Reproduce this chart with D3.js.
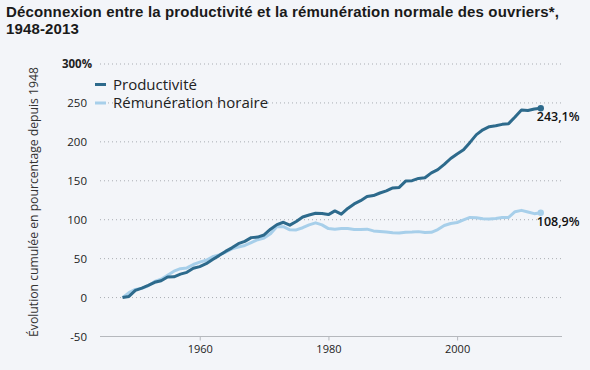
<!DOCTYPE html>
<html>
<head>
<meta charset="utf-8">
<script src="https://cdn.jsdelivr.net/npm/d3@7"></script>
<style>
  html, body { margin: 0; padding: 0; background: #f3f5f9; }
  svg { display: block; font-family: "Open Sans", "Noto Sans", sans-serif; }
</style>
</head>
<body>
<div id="chart"></div>
<script>
const years = d3.range(1948, 2014);

const productivite = [
    0, 1.5, 9.3, 12.2, 15.6, 19.6, 21.6, 26.5, 26.7, 30.1,
    32.4, 37.6, 39.8, 43.5, 49.0, 53.9, 59.3, 63.9, 69.2, 72.2,
    77.0, 77.7, 80.4, 87.8, 93.7, 96.7, 93.0, 97.7, 103.5, 106.0,
    108.3, 108.1, 106.6, 111.3, 107.2, 114.5, 120.3, 124.4, 129.7, 131.0,
    134.3, 137.0, 140.8, 141.5, 149.6, 150.2, 153.0, 153.9, 160.2, 164.4,
    171.0, 178.6, 184.5, 189.9, 199.3, 209.3, 215.5, 219.5, 220.6, 222.5,
    223.4, 232.0, 241.0, 240.2, 242.1, 243.1
];

const remuneration = [
    0, 6.3, 10.5, 11.8, 15.0, 20.8, 23.5, 28.7, 33.9, 37.1,
    38.1, 42.5, 45.5, 48.0, 52.5, 54.7, 58.2, 62.5, 64.9, 66.9,
    70.7, 74.3, 76.6, 82.0, 91.3, 91.0, 87.0, 86.9, 89.7, 93.4,
    96.0, 93.4, 88.6, 87.8, 88.6, 88.7, 87.5, 87.3, 87.9, 85.6,
    84.9, 84.3, 83.2, 82.8, 84.0, 84.2, 84.7, 83.6, 83.8, 87.3,
    92.6, 95.2, 96.4, 99.7, 102.9, 102.5, 101.3, 101.0, 101.5, 102.8,
    103.0, 110.3, 112.0, 109.9, 107.8, 108.9
];

const seriesNames = ["Productivité", "Rémunération horaire"];
const endLabels = ["243,1%", "108,9%"];
const yTicks = [-50, 0, 50, 100, 150, 200, 250, 300];
const xTicks = [1960, 1980, 2000];
const titleLines = [
    "Déconnexion entre la productivité et la rémunération normale des ouvriers*,",
    "1948-2013"
];

const colors = ["#2d6a8c", "#a7cfea"];

const W = 590, H = 370;
const svg = d3.select("#chart").append("svg")
    .attr("width", W)
    .attr("height", H);

svg.append("rect").attr("width", W).attr("height", H).attr("fill", "#f3f5f9");

// title, one text per line (tighter font so the lines don't collide)
svg.append("g")
    .selectAll("text")
    .data(titleLines)
    .enter().append("text")
    .attr("x", 6)
    .attr("y", (d, i) => 16.5 + i * 17)
    .attr("font-family", "'Liberation Sans', Arial, sans-serif")
    .attr("font-size", "15px")
    .attr("letter-spacing", "0.15px")
    .attr("font-weight", "bold")
    .attr("fill", "#1a1a1a")
    .text(d => d);

const x = d3.scaleLinear().domain([1944.5, 2016.3]).range([100, 562]);
const y = d3.scaleLinear().domain([-50, 300]).range([336.5, 64]);

// dotted grid
svg.append("g")
    .selectAll("line")
    .data(yTicks.filter(d => d > -50))
    .enter().append("line")
    .attr("x1", 100)
    .attr("x2", 562)
    .attr("y1", d => y(d))
    .attr("y2", d => y(d))
    .attr("stroke", "#a9adb3")
    .attr("stroke-width", 1)
    .attr("stroke-dasharray", "1,3");

// y labels
svg.append("g")
    .selectAll("text")
    .data(yTicks)
    .enter().append("text")
    .attr("x", d => d === 300 ? 92 : 87)
    .attr("y", d => y(d))
    .attr("dy", "0.35em")
    .attr("text-anchor", "end")
    .attr("font-size", "11.5px")
    .attr("font-weight", d => d === 300 ? "bold" : "normal")
    .attr("fill", "#222")
    .text(d => d === 300 ? d + "%" : d);

// x axis
const xAxis = svg.append("g")
    .attr("transform", `translate(0,${y(-50)})`)
    .call(d3.axisBottom(x).tickValues(xTicks).tickFormat(d3.format("d")).tickSize(4).tickSizeOuter(0));
xAxis.select(".domain").attr("stroke", "#b5b8bd").attr("d", "M100,0H562");
xAxis.selectAll(".tick line").attr("stroke", "#b5b8bd");
xAxis.selectAll(".tick text")
    .attr("font-family", "'Open Sans', sans-serif")
    .attr("font-size", "11px")
    .attr("fill", "#222")
    .attr("y", 9);

// y axis title
svg.append("text")
    .attr("transform", "translate(38,202) rotate(-90)")
    .attr("text-anchor", "middle")
    .attr("font-size", "12.2px")
    .attr("fill", "#333")
    .text("Évolution cumulée en pourcentage depuis 1948");

// lines
const line = d3.line()
    .x((d, i) => x(years[i]))
    .y(d => y(d))
    .curve(d3.curveLinear);

[remuneration, productivite].forEach((s, k) => {
    const c = k === 0 ? colors[1] : colors[0];
    svg.append("path")
        .datum(s)
        .attr("fill", "none")
        .attr("stroke", c)
        .attr("stroke-width", 3)
        .attr("stroke-linejoin", "round")
        .attr("d", line);
    svg.append("circle")
        .attr("cx", x(years[years.length - 1]))
        .attr("cy", y(s[s.length - 1]))
        .attr("r", 3.2)
        .attr("fill", c);
});

// end labels
[productivite, remuneration].forEach((s, k) => {
    svg.append("text")
        .attr("x", x(years[years.length - 1]) - 4)
        .attr("y", y(s[s.length - 1]) + 13)
        .attr("font-size", "12.5px")
        .attr("font-weight", 600)
        .attr("fill", "#111")
        .text(endLabels[k]);
});

// legend
const legend = svg.append("g")
    .selectAll("g")
    .data(seriesNames)
    .enter().append("g")
    .attr("transform", (d, i) => `translate(95,${84.5 + i * 18.5})`);

legend.append("line")
    .attr("x1", 0).attr("x2", 11)
    .attr("stroke", (d, i) => colors[i])
    .attr("stroke-width", 3);

legend.append("text")
    .attr("x", 18)
    .attr("dy", "0.35em")
    .attr("font-size", "15px")
    .attr("fill", "#222")
    .text(d => d);
</script>
</body>
</html>
